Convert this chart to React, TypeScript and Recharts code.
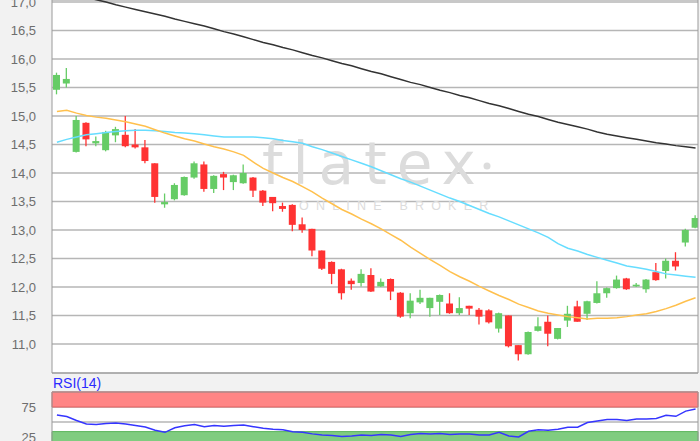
import React from 'react';
import {
  ComposedChart,
  Bar,
  Line,
  XAxis,
  YAxis,
  CartesianGrid,
  ReferenceArea,
  Customized,
} from 'recharts';

const OPEN = [15.46, 15.57, 14.37, 14.88, 14.52, 14.4, 14.66, 14.67, 14.5, 14.45, 14.17, 13.45, 13.54, 13.61, 13.92, 14.15, 13.72, 13.98, 13.84, 13.82, 13.92, 13.69, 13.58, 13.42, 13.44, 13.1, 13.02, 12.64, 12.44, 12.31, 12.11, 12.07, 12.21, 12.01, 12.14, 11.9, 11.54, 11.73, 11.63, 11.74, 11.71, 11.54, 11.67, 11.6, 11.59, 11.27, 11.5, 10.98, 10.82, 11.23, 11.39, 11.09, 11.41, 11.66, 11.53, 11.72, 11.89, 11.98, 12.15, 12.01, 11.96, 12.26, 12.28, 12.46, 12.78, 13.04];
const HIGH = [15.76, 15.84, 15.0, 14.89, 14.64, 14.74, 14.81, 15.0, 14.77, 14.58, 14.17, 13.64, 13.82, 13.94, 14.2, 14.2, 13.96, 14.02, 13.97, 14.15, 13.93, 13.7, 13.58, 13.48, 13.45, 13.22, 13.02, 12.64, 12.45, 12.32, 12.15, 12.31, 12.33, 12.15, 12.15, 11.91, 11.89, 11.95, 11.81, 11.87, 11.89, 11.82, 11.67, 11.63, 11.61, 11.55, 11.5, 10.98, 11.22, 11.47, 11.5, 11.28, 11.67, 11.76, 11.76, 12.1, 11.99, 12.2, 12.16, 12.07, 12.14, 12.42, 12.5, 12.61, 13.02, 13.26];
const LOW = [15.38, 15.5, 14.36, 14.47, 14.47, 14.38, 14.54, 14.45, 14.43, 14.17, 13.48, 13.39, 13.52, 13.6, 13.9, 13.67, 13.65, 13.7, 13.7, 13.81, 13.58, 13.42, 13.33, 13.32, 12.98, 12.95, 12.54, 12.3, 12.05, 11.78, 11.95, 12.01, 11.91, 12.0, 11.77, 11.46, 11.45, 11.7, 11.48, 11.51, 11.53, 11.51, 11.51, 11.34, 11.36, 11.2, 10.94, 10.71, 10.81, 11.22, 10.96, 11.08, 11.3, 11.39, 11.42, 11.71, 11.81, 11.97, 11.95, 12.0, 11.9, 12.11, 12.15, 12.29, 12.71, 13.03];
const CLOSE = [15.72, 15.65, 14.93, 14.59, 14.56, 14.72, 14.77, 14.47, 14.45, 14.21, 13.58, 13.49, 13.79, 13.93, 14.17, 13.72, 13.95, 13.92, 13.96, 14.0, 13.69, 13.48, 13.47, 13.37, 13.09, 13.0, 12.64, 12.32, 12.23, 11.89, 12.05, 12.23, 11.92, 12.09, 11.92, 11.48, 11.76, 11.81, 11.81, 11.86, 11.54, 11.63, 11.62, 11.48, 11.38, 11.54, 10.96, 10.82, 11.21, 11.31, 11.18, 11.28, 11.53, 11.39, 11.75, 11.89, 11.98, 12.13, 11.96, 12.04, 12.13, 12.12, 12.46, 12.36, 13.0, 13.21];

const MA_LONG = [17.21, 17.17, 17.12, 17.08, 17.04, 17.0, 16.95, 16.91, 16.87, 16.83, 16.79, 16.75, 16.7, 16.66, 16.62, 16.58, 16.53, 16.48, 16.44, 16.39, 16.34, 16.29, 16.25, 16.2, 16.16, 16.11, 16.06, 16.02, 15.97, 15.92, 15.88, 15.83, 15.78, 15.74, 15.69, 15.64, 15.59, 15.55, 15.5, 15.45, 15.41, 15.36, 15.32, 15.27, 15.22, 15.18, 15.13, 15.08, 15.03, 14.99, 14.94, 14.89, 14.85, 14.81, 14.77, 14.72, 14.68, 14.65, 14.62, 14.59, 14.56, 14.53, 14.51, 14.48, 14.46, 14.44];
const MA_MID = [14.54, 14.59, 14.63, 14.67, 14.69, 14.71, 14.73, 14.74, 14.75, 14.75, 14.74, 14.73, 14.71, 14.7, 14.69, 14.67, 14.65, 14.63, 14.63, 14.63, 14.63, 14.62, 14.6, 14.57, 14.55, 14.52, 14.46, 14.41, 14.35, 14.29, 14.23, 14.17, 14.11, 14.04, 13.97, 13.9, 13.84, 13.77, 13.7, 13.63, 13.56, 13.5, 13.43, 13.36, 13.29, 13.23, 13.16, 13.09, 13.02, 12.95, 12.87, 12.76, 12.68, 12.63, 12.57, 12.52, 12.47, 12.42, 12.37, 12.34, 12.31, 12.27, 12.23, 12.21, 12.19, 12.17];
const MA_SHORT = [15.08, 15.1, 15.05, 15.01, 14.98, 14.96, 14.93, 14.9, 14.86, 14.82, 14.76, 14.7, 14.65, 14.6, 14.56, 14.51, 14.46, 14.42, 14.37, 14.31, 14.19, 14.08, 14.0, 13.92, 13.85, 13.76, 13.67, 13.56, 13.46, 13.36, 13.28, 13.19, 13.11, 13.02, 12.92, 12.82, 12.7, 12.59, 12.48, 12.38, 12.27, 12.18, 12.1, 12.01, 11.93, 11.85, 11.78, 11.7, 11.64, 11.58, 11.54, 11.51, 11.48, 11.46, 11.44, 11.45, 11.45, 11.46, 11.48, 11.51, 11.53, 11.57, 11.62, 11.68, 11.75, 11.81];

const RSI = [61.6, 59.1, 52.6, 46.6, 46, 47.4, 48.3, 46.6, 44, 41.7, 36.2, 32.8, 40.5, 43.6, 45.7, 42.2, 44, 43.1, 44, 44.8, 42.2, 39.7, 37.9, 37, 33.6, 32.8, 30.2, 28.4, 27.6, 25.9, 26.7, 28.4, 27.6, 29.3, 28.4, 25.9, 29.3, 31, 30.2, 31, 29.3, 30.2, 30.2, 28.4, 28.4, 32.8, 26.7, 25, 34.5, 37, 36.2, 37.9, 41.4, 41.4, 49.1, 51.7, 54, 54.3, 52.6, 54.8, 55.2, 56, 61.2, 59.5, 68.1, 71.6];

const PRICE_TICKS = [11, 11.5, 12, 12.5, 13, 13.5, 14, 14.5, 15, 15.5, 16, 16.5, 17];
const RSI_TICKS = [25, 50, 75];
const RSI_LABELS: Record<number, string> = { 25: '25', 50: '', 75: '75' };

const data = OPEN.map((o, i) => ({
  i,
  o,
  h: HIGH[i],
  l: LOW[i],
  c: CLOSE[i],
  range: [LOW[i], HIGH[i]],
  maLong: MA_LONG[i],
  maMid: MA_MID[i],
  maShort: MA_SHORT[i],
  rsi: RSI[i],
}));

const GREEN = '#66cc66';
const RED = '#ff3333';
const FONT = '"Liberation Sans", Arial, sans-serif';
const WM = '#dcdcdc';

const Candle = (props: any) => {
  let { x, y, width, height, payload } = props;
  if (height < 0) {
    y = y + height;
    height = -height;
  }
  const { o, h, l, c } = payload;
  const up = c >= o;
  const color = up ? GREEN : RED;
  const span = h - l || 1;
  const toY = (v: number) => y + ((h - v) / span) * height;
  const top = toY(Math.max(o, c));
  const bot = toY(Math.min(o, c));
  const cx = x + width / 2;
  return (
    <g>
      <line x1={cx} x2={cx} y1={y} y2={y + height} stroke={color} strokeWidth={1.3} />
      <rect x={x} y={top} width={width} height={Math.max(bot - top, 1.5)} fill={color} />
    </g>
  );
};

const Watermark = () => (
  <g>
    <text
      x={262}
      y={184}
      fontFamily='"DejaVu Sans", sans-serif'
      fontSize={58}
      fill={WM}
      letterSpacing={10}
    >
      flatex
    </text>
    <circle cx={487} cy={166} r={3.5} fill={WM} />
    <text x={299} y={210} fontFamily={FONT} fontSize={12.5} fill={WM} letterSpacing={7.2}>
      ONLINE BROKER
    </text>
  </g>
);

export default function App() {
  return (
    <div
      style={{
        position: 'absolute',
        left: 0,
        top: 0,
        width: 700,
        height: 441,
        background: '#f2f2f2',
        overflow: 'hidden',
      }}
    >
      <div style={{ position: 'absolute', left: 0, top: 0 }}>
        <ComposedChart width={700} height={374} data={data} margin={{ top: 0, right: 0, bottom: 0, left: 0 }}>
          <CartesianGrid yAxisId="p" vertical={false} fill="#ffffff" stroke="#b6b6b6" strokeWidth={1.6} />
          <XAxis
            dataKey="i"
            type="number"
            domain={[-0.5, 65.25]}
            allowDataOverflow
            height={1}
            tick={false}
            tickLine={false}
            axisLine={{ stroke: '#9a9a9a' }}
          />
          <YAxis
            yAxisId="p"
            width={52}
            domain={[10.491, 17.035]}
            allowDataOverflow
            ticks={PRICE_TICKS}
            interval={0}
            tickFormatter={(v: number) => v.toFixed(1).replace('.', ',')}
            tickLine={false}
            tickSize={0}
            tickMargin={16}
            axisLine={{ stroke: '#9a9a9a' }}
            tick={{ fill: '#6e6e6e', fontSize: 13, fontFamily: FONT }}
          />
          <YAxis
            yAxisId="r"
            orientation="right"
            width={2}
            domain={[10.491, 17.035]}
            tick={false}
            tickLine={false}
            axisLine={{ stroke: '#9a9a9a' }}
          />
          <Customized component={<Watermark />} />
          <Line yAxisId="p" dataKey="maLong" stroke="#333333" strokeWidth={1.5} dot={false} isAnimationActive={false} />
          <Line yAxisId="p" dataKey="maMid" stroke="#66ddff" strokeWidth={1.5} dot={false} isAnimationActive={false} />
          <Line yAxisId="p" dataKey="maShort" stroke="#ffc04d" strokeWidth={1.5} dot={false} isAnimationActive={false} />
          <Bar yAxisId="p" dataKey="range" barSize={7} shape={Candle} isAnimationActive={false} />
        </ComposedChart>
      </div>
      <div
        style={{
          position: 'absolute',
          left: 53,
          top: 375,
          fontFamily: FONT,
          fontSize: 14,
          color: '#2a2aff',
          lineHeight: '16px',
        }}
      >
        RSI(14)
      </div>
      <div style={{ position: 'absolute', left: 0, top: 391 }}>
        <ComposedChart width={700} height={61} data={data} margin={{ top: 0, right: 0, bottom: 0, left: 0 }}>
          <CartesianGrid yAxisId="q" vertical={false} fill="#ffffff" stroke="#b6b6b6" strokeWidth={1.6} />
          <XAxis
            dataKey="i"
            type="number"
            orientation="top"
            domain={[-0.5, 65.25]}
            allowDataOverflow
            height={1}
            tick={false}
            tickLine={false}
            axisLine={{ stroke: '#9a9a9a' }}
          />
          <YAxis
            yAxisId="q"
            width={52}
            domain={[0, 100]}
            allowDataOverflow
            ticks={RSI_TICKS}
            interval={0}
            tickFormatter={(v: number) => RSI_LABELS[v]}
            tickLine={false}
            tickSize={0}
            tickMargin={16}
            axisLine={{ stroke: '#9a9a9a' }}
            tick={{ fill: '#6e6e6e', fontSize: 13, fontFamily: FONT }}
          />
          <YAxis
            yAxisId="s"
            orientation="right"
            width={2}
            domain={[0, 100]}
            tick={false}
            tickLine={false}
            axisLine={{ stroke: '#9a9a9a' }}
          />
          <ReferenceArea yAxisId="q" y1={75} y2={100} fill="#ff8585" fillOpacity={1} stroke="#e06060" />
          <ReferenceArea yAxisId="q" y1={0} y2={34} fill="#80cc80" fillOpacity={1} stroke="#5cb55c" />
          <Line yAxisId="q" dataKey="rsi" stroke="#3535ff" strokeWidth={1.5} dot={false} isAnimationActive={false} />
        </ComposedChart>
      </div>
    </div>
  );
}
